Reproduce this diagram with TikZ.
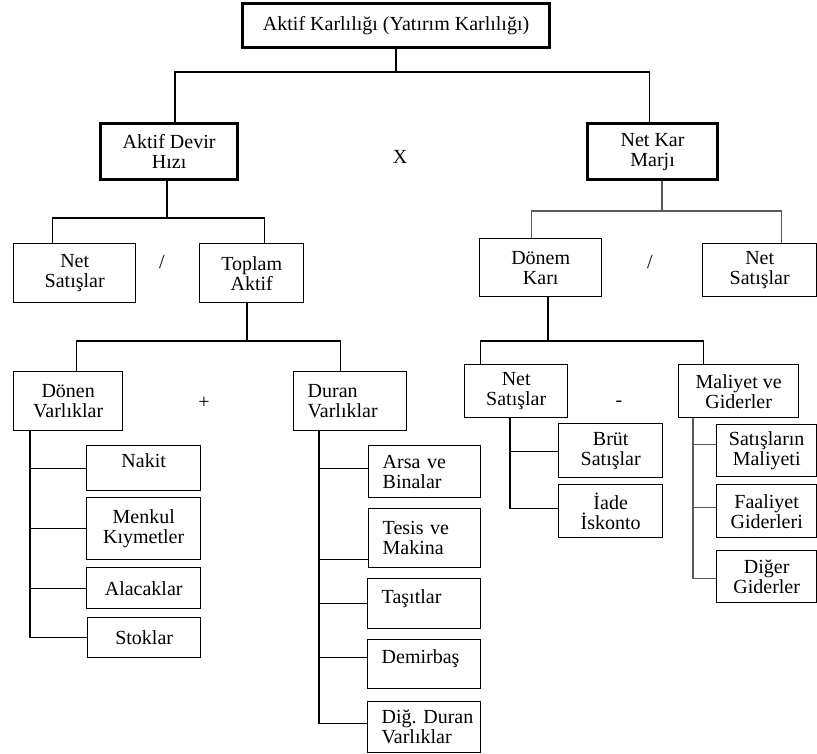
\documentclass[tikz,border=0pt]{standalone}
\usepackage{fontspec}
\setmainfont{Liberation Serif}
\frenchspacing
\begin{document}
\begin{tikzpicture}[x=1pt,y=-1pt,line width=1.4pt,
  rbox/.style 2 args={draw,rectangle,anchor=north west,minimum width=#1,minimum height=#2,
    inner sep=2pt,align=center,font=\fontsize{20}{20}\selectfont},
  hbox/.style={line width=3.2pt},
  lbox/.style={align=left,text width=#1,inner xsep=14pt},
  upper/.style={text depth=15pt},
  gline/.style={draw=black!65},
  op/.style={font=\fontsize{20}{20}\selectfont}]
\useasboundingbox (0,0) rectangle (817,754);
% top of the tree
\node[rbox={307pt}{44pt},hbox](n_ak) at (241,2) {Aktif Karlılığı (Yatırım Karlılığı)};
\node[rbox={137pt}{56pt},hbox](n_adh) at (99,122) {Aktif Devir\\Hızı};
\node[rbox={130pt}{56pt},hbox](n_nkm) at (586,122) {Net Kar\\Marjı};
\node[op](o_x) at (400,157) {X};
% second level
\node[rbox={122pt}{59pt}](n_ns1) at (13,243) {Net\\Satışlar};
\node[rbox={104pt}{59pt}](n_ta) at (199,243) {Toplam\\Aktif};
\node[op](o_div1) at (162,262) {/};
\node[rbox={122pt}{58pt}](n_dk) at (479,238) {Dönem\\Karı};
\node[rbox={114pt}{53pt}](n_ns2) at (702,243) {Net\\Satışlar};
\node[op](o_div2) at (650,262) {/};
% third level
\node[rbox={109pt}{59pt}](n_dv) at (13,371) {Dönen\\Varlıklar};
\node[rbox={113pt}{59pt},lbox=85pt](n_duv) at (293,371) {Duran\\Varlıklar};
\node[op](o_plus) at (204,403) {+};
\node[rbox={103pt}{53pt}](n_nsb) at (464,364) {Net\\Satışlar};
\node[rbox={120pt}{53pt}](n_mg) at (678,364) {Maliyet ve\\Giderler};
\node[op](o_minus) at (619,404) {-};
% leaves
\node[rbox={114pt}{45pt},upper](n_nakit) at (86,445) {Nakit};
\node[rbox={114pt}{62pt}](n_menkul) at (86,497) {Menkul\\Kıymetler};
\node[rbox={114pt}{41pt}](n_alacak) at (86,567) {Alacaklar};
\node[rbox={113pt}{40pt}](n_stok) at (87,617) {Stoklar};
\node[rbox={112pt}{52pt},lbox=84pt](n_arsa) at (368,445) {\mbox{Arsa ve}\\Binalar};
\node[rbox={112pt}{59pt},lbox=84pt](n_tesis) at (368,508) {\mbox{Tesis ve}\\Makina};
\node[rbox={113pt}{50pt},lbox=85pt,upper](n_tasit) at (367,578) {Taşıtlar};
\node[rbox={113pt}{49pt},lbox=85pt,upper](n_demir) at (367,639) {Demirbaş};
\node[rbox={113pt}{51pt},lbox=85pt](n_digd) at (367,701) {\mbox{Diğ. Duran}\\Varlıklar};
\node[rbox={104pt}{54pt}](n_brut) at (558,423) {Brüt\\Satışlar};
\node[rbox={104pt}{53pt}](n_iade) at (558,484) {İade\\İskonto};
\node[rbox={100pt}{52pt}](n_sm) at (716,424) {Satışların\\Maliyeti};
\node[rbox={100pt}{53pt}](n_fg) at (716,484) {Faaliyet\\Giderleri};
\node[rbox={100pt}{52pt}](n_dg) at (716,550) {Diğer\\Giderler};
% junctions
\coordinate (j_0) at (396,72);
\coordinate (j_1) at (167,218);
\coordinate (j_2) at (662,211);
\coordinate (j_3) at (247,341);
\coordinate (j_4) at (548,341);
\draw (j_0 |- n_ak.south) -- (j_0);
\draw ([xshift=6pt]n_adh.north) |- (j_0) -| ([xshift=-3pt]n_nkm.north);
\draw (j_1 |- n_adh.south) -- (j_1);
\draw ([xshift=-22pt]n_ns1.north) |- (j_1) -| ([xshift=13pt]n_ta.north);
\draw[gline] (j_2 |- n_nkm.south) -- (j_2);
\draw[gline] ([xshift=-9pt]n_dk.north) |- (j_2) -| ([xshift=22pt]n_ns2.north);
\draw (j_3 |- n_ta.south) -- (j_3);
\draw ([xshift=8.5pt]n_dv.north) |- (j_3) -| ([xshift=-9.5pt]n_duv.north);
\draw (j_4 |- n_dk.south) -- (j_4);
\draw ([xshift=-35.5pt]n_nsb.north) |- (j_4) -| ([xshift=-35pt]n_mg.north);
% lists
\foreach \n in {n_nakit,n_menkul,n_alacak,n_stok}
  \draw ([xshift=17pt]n_dv.south west) |- (\n.west);
\foreach \n/\s in {n_arsa/3pt,n_tesis/-21.5pt,n_tasit/0pt,n_demir/6.5pt,n_digd/3.5pt}
  \draw ([xshift=26pt]n_duv.south west) |- ([yshift=\s]\n.west);
\foreach \n/\s in {n_brut/-1pt,n_iade/2.5pt}
  \draw ([xshift=46pt]n_nsb.south west) |- ([yshift=\s]\n.west);
\foreach \n/\s in {n_sm/6pt,n_fg/3.5pt,n_dg/-2pt}
  \draw[gline] ([xshift=15pt]n_mg.south west) |- ([yshift=\s]\n.west);
\end{tikzpicture}
\end{document}
